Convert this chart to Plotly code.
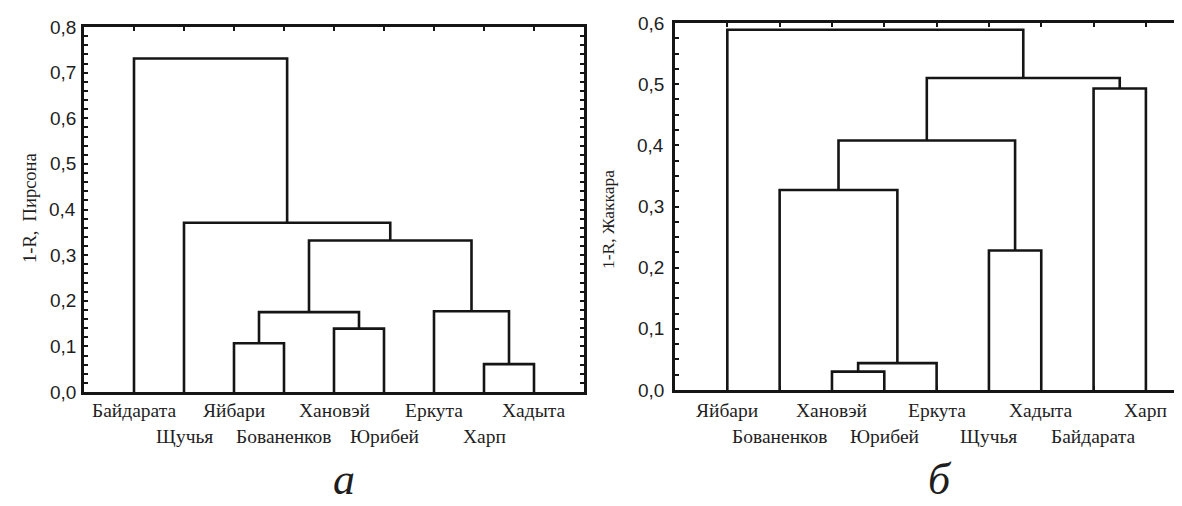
import plotly.graph_objects as go

# ---- data ----
leaves_a = ["Байдарата", "Щучья", "Яйбари", "Бованенков", "Хановэй",
            "Юрибей", "Еркута", "Харп", "Хадыта"]
# merges: (child1, child2, height); leaves are 0..8, new nodes numbered from 9
merge_left_a = [2, 4, 9, 7, 6, 11, 1, 0]
merge_right_a = [3, 5, 10, 8, 12, 13, 14, 15]
merge_height_a = [0.107, 0.139, 0.175, 0.061, 0.177, 0.332, 0.371, 0.731]

leaves_b = ["Яйбари", "Бованенков", "Хановэй", "Юрибей", "Еркута",
            "Щучья", "Хадыта", "Байдарата", "Харп"]
merge_left_b = [2, 9, 1, 5, 11, 7, 13, 0]
merge_right_b = [3, 4, 10, 6, 12, 8, 14, 15]
merge_height_b = [0.030, 0.044, 0.327, 0.228, 0.408, 0.493, 0.510, 0.589]

yticks_a = [0.0, 0.1, 0.2, 0.3, 0.4, 0.5, 0.6, 0.7, 0.8]
yticks_b = [0.0, 0.1, 0.2, 0.3, 0.4, 0.5, 0.6]
ytitle_a = "1-R,  Пирсона"
ytitle_b = "1-R, Жаккара"
caption_a = "а"
caption_b = "б"

# page has an 8px body margin: figure occupies window pixels 8..1182 / 8..506
OFF = 8
W, H = 1182 - OFF, 506 - OFF
LINE = "#151515"
TXT = "#1e1e1e"
SERIF = "Liberation Serif, Times New Roman, serif"
SANS = "Liberation Sans, Arial, sans-serif"


def dendro_path(leaves, lefts, rights, heights):
    pos = {i: float(i + 1) for i in range(len(leaves))}
    hgt = {i: 0.0 for i in range(len(leaves))}
    xs, ys = [], []
    n = len(leaves)
    for k, (a, b, h) in enumerate(zip(lefts, rights, heights)):
        node = n + k
        xa, xb = pos[a], pos[b]
        xs += [xa, xa, xb, xb, None]
        ys += [hgt[a], h, h, hgt[b], None]
        pos[node] = (xa + xb) / 2
        hgt[node] = h
    return xs, ys


fig = go.Figure()

xa_, ya_ = dendro_path(leaves_a, merge_left_a, merge_right_a, merge_height_a)
xb_, yb_ = dendro_path(leaves_b, merge_left_b, merge_right_b, merge_height_b)

fig.add_trace(go.Scatter(x=xa_, y=ya_, mode="lines", xaxis="x", yaxis="y",
                         line=dict(color=LINE, width=2.6), hoverinfo="skip",
                         showlegend=False))
fig.add_trace(go.Scatter(x=xb_, y=yb_, mode="lines", xaxis="x2", yaxis="y2",
                         line=dict(color=LINE, width=2.6), hoverinfo="skip",
                         showlegend=False))

# geometry (window pixels)
axL, axR, ayT, ayB = 84, 584, 27, 392
bxL, byT, byB = 675, 23, 390


def px(x):
    return (x - OFF) / W


def py(y):
    return (H - (y - OFF)) / H


common_x = dict(showgrid=False, zeroline=False, showline=True, mirror="ticks",
                linecolor=LINE, linewidth=2.6, ticks="inside", ticklen=4,
                tickwidth=2, tickcolor=LINE, showticklabels=False,
                tickmode="array", fixedrange=True)

fig.update_layout(
    width=W, height=H,
    margin=dict(l=0, r=0, t=0, b=0),
    paper_bgcolor="white", plot_bgcolor="white",
    xaxis=dict(domain=[px(axL), px(axR)], range=[0, 10],
               tickvals=list(range(1, len(leaves_a) + 1)), anchor="y",
               **common_x),
    yaxis=dict(domain=[py(ayB), py(ayT)], range=[0, 0.8], anchor="x",
               showgrid=False, zeroline=False, showline=True, mirror="ticks",
               linecolor=LINE, linewidth=2.6, ticks="inside", ticklen=4,
               tickwidth=2, tickcolor=LINE, dtick=0.02, tick0=0,
               showticklabels=False, fixedrange=True),
    xaxis2=dict(domain=[px(bxL), 1.0], range=[0, 9.69],
                tickvals=list(range(1, len(leaves_b) + 1)), anchor="y2",
                **common_x),
    yaxis2=dict(domain=[py(byB), py(byT)], range=[0, 0.6], anchor="x2",
                showgrid=False, zeroline=False, showline=True, mirror=False,
                linecolor=LINE, linewidth=2.6, ticks="inside", ticklen=4,
                tickwidth=2, tickcolor=LINE, dtick=0.025, tick0=0,
                showticklabels=False, fixedrange=True),
)

ann = []
# y tick labels
for v in yticks_a:
    ann.append(dict(x=0, y=v, xref="x", yref="y", text=f"{v:.1f}".replace(".", ","),
                    showarrow=False, xanchor="right", xshift=-6,
                    font=dict(family=SANS, size=19, color=TXT)))
for v in yticks_b:
    ann.append(dict(x=0, y=v, xref="x2", yref="y2", text=f"{v:.1f}".replace(".", ","),
                    showarrow=False, xanchor="right", xshift=-9,
                    font=dict(family=SANS, size=19, color=TXT)))

# leaf labels in two alternating rows
row_y = [py(410), py(436)]
for leaves, xr in ((leaves_a, "x"), (leaves_b, "x2")):
    for i, name in enumerate(leaves):
        ann.append(dict(x=i + 1, y=row_y[i % 2], xref=xr, yref="paper",
                        text=name, showarrow=False, xanchor="center",
                        yanchor="middle",
                        font=dict(family=SERIF, size=19.5, color=TXT)))

# axis titles
ann.append(dict(x=px(18), y=py(208), xref="paper", yref="paper", text=ytitle_a,
                textangle=-90, showarrow=False,
                font=dict(family=SERIF, size=18.5, color=TXT)))
ann.append(dict(x=px(608), y=py(220), xref="paper", yref="paper", text=ytitle_b,
                textangle=-90, showarrow=False,
                font=dict(family=SERIF, size=17.5, color=TXT)))

# panel captions (kept just inside the bottom edge)
ann.append(dict(x=px(344), y=0, xref="paper", yref="paper", text=caption_a,
                showarrow=False, xanchor="center", yanchor="bottom",
                font=dict(family=SERIF, size=44, color=TXT, style="italic")))
ann.append(dict(x=px(940), y=0, xref="paper", yref="paper", text=caption_b,
                showarrow=False, xanchor="center", yanchor="bottom",
                font=dict(family=SERIF, size=44, color=TXT, style="italic")))

fig.update_layout(annotations=ann)
fig.write_html("out.html")
